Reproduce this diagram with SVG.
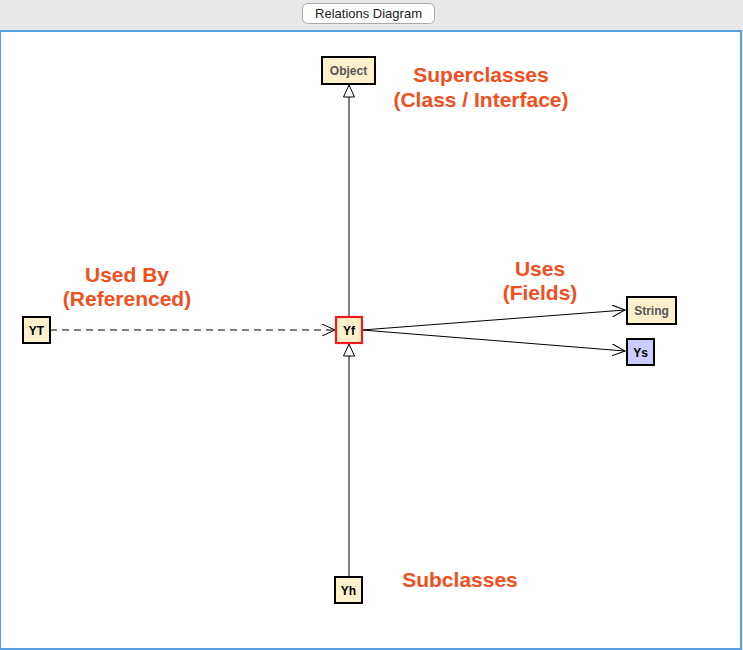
<svg xmlns="http://www.w3.org/2000/svg" width="743" height="650" viewBox="0 0 743 650">
<style>
.node rect{fill:#fdf1cc;stroke:#000;stroke-width:2}
.node text{font-family:"Liberation Sans",Arial,sans-serif;font-weight:bold;font-size:12px;text-anchor:middle;fill:#000}
.gray text{fill:#555}
.lbl{font-family:"Liberation Sans",Arial,sans-serif;font-weight:bold;font-size:21px;fill:#f24e1e;text-anchor:middle}
.conn line{stroke:#000;stroke-width:1;fill:none}
</style>
<defs>
<marker id="tri" viewBox="0 0 14 13" refX="13" refY="6.5" markerWidth="14" markerHeight="13" markerUnits="userSpaceOnUse" orient="auto">
<path d="M13,6.5 L1,1 L1,12 Z" fill="#fff" stroke="#000" stroke-width="1"/>
</marker>
<marker id="open" viewBox="0 0 14 12" refX="13" refY="6" markerWidth="14" markerHeight="12" markerUnits="userSpaceOnUse" orient="auto">
<path d="M0,0 L13,6 L0,12" fill="none" stroke="#000" stroke-width="1"/>
</marker>
</defs>
<rect x="0" y="0" width="743" height="650" fill="#e8e8e8"/>
<rect x="0" y="31" width="741" height="618" fill="#fff" stroke="#5aa0e0" stroke-width="2"/>
<g id="tab">
<rect x="302.5" y="3.5" width="132" height="20" rx="5" fill="#fff" stroke="#aaa"/>
<text x="368.5" y="18" font-family="'Liberation Sans',Arial,sans-serif" font-size="13" text-anchor="middle" fill="#222">Relations Diagram</text>
</g>
<g id="connectors" class="conn">
<line x1="349" y1="317" x2="349" y2="85" marker-end="url(#tri)"/>
<line x1="349" y1="577" x2="349" y2="344" marker-end="url(#tri)"/>
<line x1="50" y1="330" x2="335" y2="330" stroke-dasharray="7,5" marker-end="url(#open)"/>
<line x1="362" y1="330" x2="625" y2="310" marker-end="url(#open)"/>
<line x1="362" y1="330" x2="625" y2="351" marker-end="url(#open)"/>
</g>
<g id="node-Object" class="node gray"><rect x="322" y="57" width="53" height="27"/><text x="348.5" y="75">Object</text></g>
<g id="node-YT" class="node"><rect x="23" y="317" width="27" height="26"/><text x="36.5" y="334.5">YT</text></g>
<g id="node-Yf" class="node"><rect x="336" y="317" width="26" height="26" style="stroke:#ee1c1c;stroke-width:2.2"/><text x="349" y="334.5">Yf</text></g>
<g id="node-String" class="node gray"><rect x="627" y="297" width="49" height="27"/><text x="651.5" y="315">String</text></g>
<g id="node-Ys" class="node"><rect x="627" y="339" width="27" height="26" style="fill:#ccccff"/><text x="640.5" y="356.5">Ys</text></g>
<g id="node-Yh" class="node"><rect x="335" y="577" width="27" height="26"/><text x="348.5" y="594.5">Yh</text></g>
<g id="labels">
<text class="lbl" x="481" y="82">Superclasses</text>
<text class="lbl" x="481" y="107">(Class / Interface)</text>
<text class="lbl" x="127" y="282">Used By</text>
<text class="lbl" x="127" y="306">(Referenced)</text>
<text class="lbl" x="540" y="276">Uses</text>
<text class="lbl" x="540" y="300">(Fields)</text>
<text class="lbl" x="460" y="587">Subclasses</text>
</g>
</svg>
